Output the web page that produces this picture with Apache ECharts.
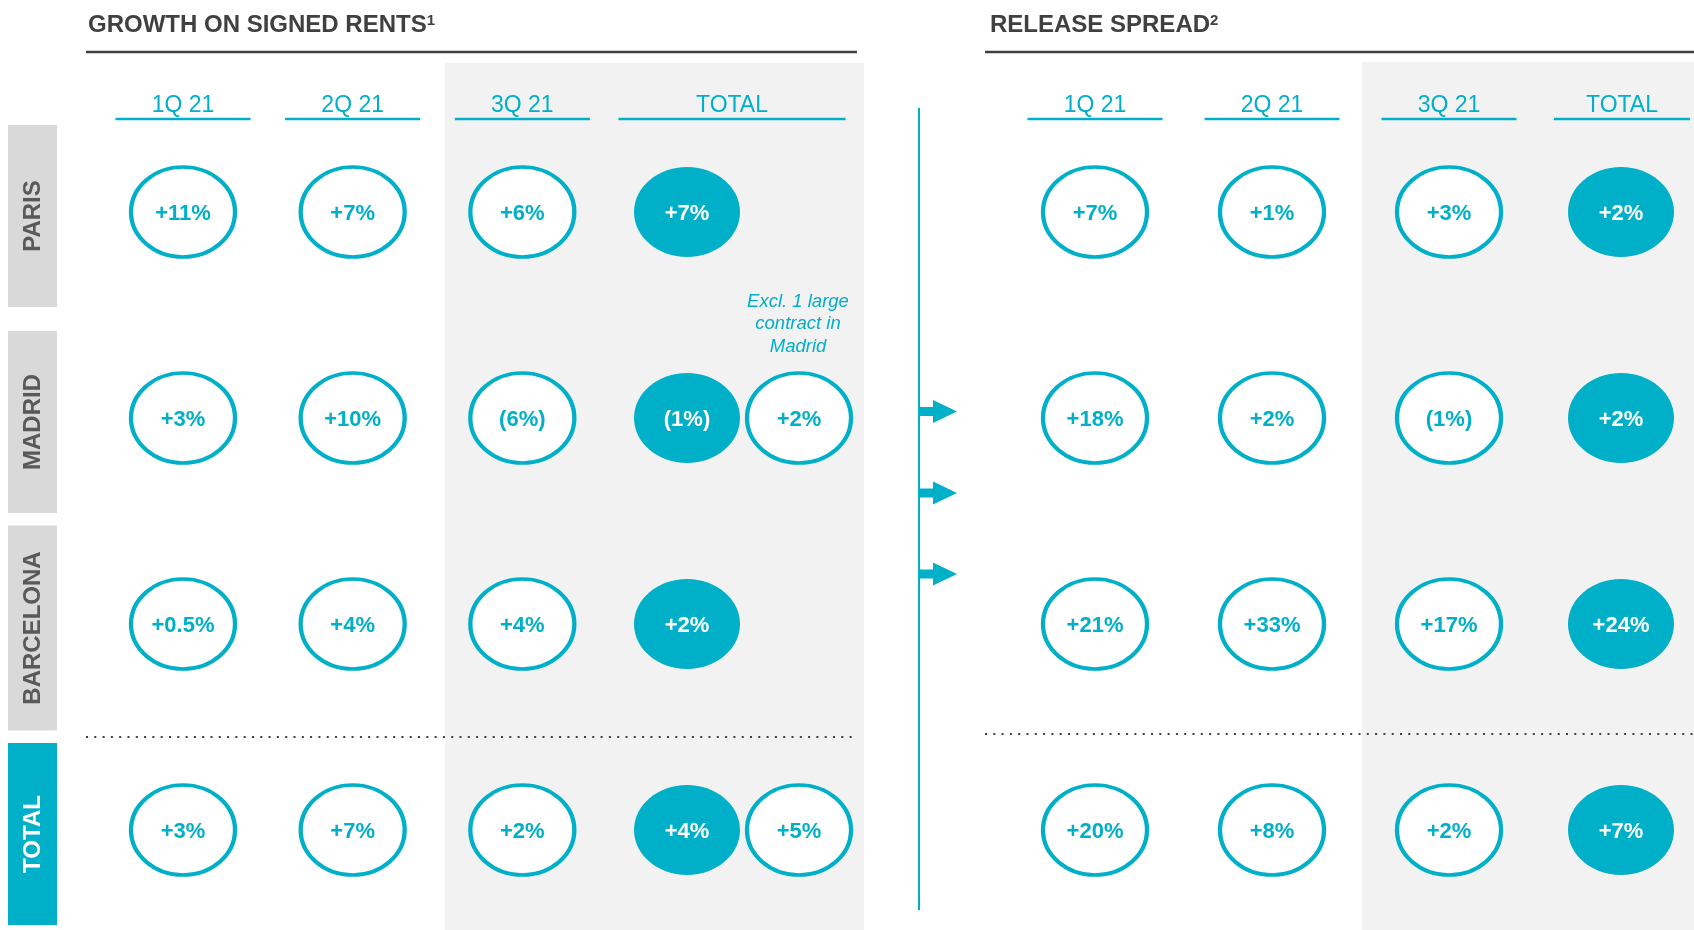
<!DOCTYPE html>
<html>
<head>
<meta charset="utf-8">
<script src="https://cdn.jsdelivr.net/npm/echarts@6/dist/echarts.min.js"></script>
<style>
  html, body { margin: 0; padding: 0; background: #fff; }
  #main { width: 1694px; height: 930px; }
</style>
</head>
<body>
<div id="main"></div>
<script>
// categories
const quarters = ['1Q 21', '2Q 21', '3Q 21', 'TOTAL'];
const cities = ['PARIS', 'MADRID', 'BARCELONA', 'TOTAL'];

// growth on signed rents, rows = cities, cols = quarters (last = total)
const signedRentGrowth = [
  [11, 7, 6, 7],
  [3, 10, -6, -1],
  [0.5, 4, 4, 2],
  [3, 7, 2, 4]
];
// total excluding 1 large contract in Madrid
const signedRentExcl = [null, 2, null, 5];

// release spread
const releaseSpread = [
  [7, 1, 3, 2],
  [18, 2, -1, 2],
  [21, 33, 17, 24],
  [20, 8, 2, 7]
];

const CYAN = '#00AFC8';
const DARK = '#404040';
const FONT = 'Arial, "Liberation Sans", sans-serif';
// ellipse drawn with beziers, stretched to symbolSize
const ELLIPSE = 'path://M50,0 C77.6,0 100,22.4 100,50 C100,77.6 77.6,100 50,100 C22.4,100 0,77.6 0,50 C0,22.4 22.4,0 50,0 Z';

function fmt (v) {
  return v < 0 ? '(' + Math.abs(v) + '%)' : '+' + v + '%'
}

function quarterPoints (table) {
  var out = []
  table.forEach(function (row, r) {
    for (var c = 0; c < 3; c++) out.push([c, r, row[c]])
  })
  return out
}
function totalPoints (table) {
  return table.map(function (row, r) { return [3, r, row[3]] })
}

function circleSeries (gi, data, filled, offset) {
  return {
    type: 'scatter',
    xAxisIndex: gi,
    yAxisIndex: gi,
    data: data,
    symbol: ELLIPSE,
    symbolSize: filled ? [106, 90] : [104, 90],
    symbolOffset: [offset || 0, 0],
    itemStyle: filled
      ? { color: CYAN, opacity: 1 }
      : { color: '#fff', borderColor: CYAN, borderWidth: 4, opacity: 1 },
    label: {
      show: true,
      position: 'inside',
      offset: [0, 2],
      formatter: function (p) { return fmt(p.value[2]) },
      color: filled ? '#fff' : CYAN,
      fontWeight: 'bold',
      fontSize: 22,
      fontFamily: FONT
    },
    emphasis: { disabled: true },
    z: 3
  }
}

function headerSeries (gi, totalShift, totalWidth) {
  return {
    type: 'custom',
    xAxisIndex: gi,
    yAxisIndex: gi,
    clip: false,
    data: quarters.map(function (q, i) { return [i, 0] }),
    renderItem: function (params, api) {
      var i = api.value(0)
      var x = api.coord([i, 0])[0]
      var w = 135
      if (i === 3) { x += totalShift; w = totalWidth }
      return {
        type: 'group',
        children: [
          {
            type: 'text',
            x: x,
            y: 106,
            style: {
              text: quarters[i],
              fill: CYAN,
              fontSize: 23,
              fontFamily: FONT,
              align: 'center',
              verticalAlign: 'middle'
            }
          },
          {
            type: 'line',
            shape: { x1: x - w / 2, y1: 119, x2: x + w / 2, y2: 119 },
            style: { stroke: CYAN, lineWidth: 2.5 }
          }
        ]
      }
    }
  }
}

var rowLabelSeries = {
  type: 'custom',
  xAxisIndex: 0,
  yAxisIndex: 0,
  clip: false,
  data: cities.map(function (c, i) { return [0, i] }),
  renderItem: function (params, api) {
    var r = api.value(1)
    var y = api.coord([0, r])[1] + 4
    var h = r === 2 ? 205 : 182
    var isTotal = r === cities.length - 1
    return {
      type: 'group',
      children: [
        {
          type: 'rect',
          shape: { x: 8, y: y - h / 2, width: 49, height: h },
          style: { fill: isTotal ? CYAN : '#D9D9D9' }
        },
        {
          type: 'text',
          x: 33,
          y: y,
          rotation: Math.PI / 2,
          style: {
            text: cities[r],
            fill: isTotal ? '#fff' : '#595959',
            fontSize: 24,
            fontWeight: 'bold',
            fontFamily: FONT,
            align: 'center',
            verticalAlign: 'middle'
          }
        }
      ]
    }
  }
}

function arrow (c) {
  return {
    type: 'polygon',
    shape: {
      points: [[919, c - 4.5], [933, c - 4.5], [933, c - 11.5], [957, c], [933, c + 11.5], [933, c + 4.5], [919, c + 4.5]]
    },
    style: { fill: CYAN }
  }
}

function title (x, main, sup) {
  return {
    type: 'text',
    x: x,
    y: 25,
    style: {
      text: '{t|' + main + '}{s|' + sup + '}',
      rich: {
        t: { fontSize: 24, fontWeight: 'bold', fill: DARK, fontFamily: FONT },
        s: { fontSize: 15, fontWeight: 'bold', fill: DARK, fontFamily: FONT, verticalAlign: 'top' }
      },
      verticalAlign: 'middle'
    }
  }
}

var chart = echarts.init(document.getElementById('main'), null, { renderer: 'canvas' })

var option = {
  animation: false,
  backgroundColor: '#fff',
  grid: [
    { left: 183, right: 1002, top: 212, bottom: 100 },
    { left: 1095, right: 68, top: 212, bottom: 100 }
  ],
  xAxis: [
    { type: 'category', gridIndex: 0, data: quarters, boundaryGap: false, show: false },
    { type: 'category', gridIndex: 1, data: quarters, boundaryGap: false, show: false }
  ],
  yAxis: [
    { type: 'category', gridIndex: 0, data: cities, boundaryGap: false, inverse: true, show: false },
    { type: 'category', gridIndex: 1, data: cities, boundaryGap: false, inverse: true, show: false }
  ],
  graphic: [
    // shaded 3Q / total panels
    { type: 'rect', z: -10, shape: { x: 445, y: 63, width: 419, height: 867 }, style: { fill: '#F2F2F2' } },
    { type: 'rect', z: -10, shape: { x: 1362, y: 62, width: 332, height: 868 }, style: { fill: '#F2F2F2' } },
    title(88, 'GROWTH ON SIGNED RENTS', '1'),
    title(990, 'RELEASE SPREAD', '2'),
    { type: 'line', shape: { x1: 86, y1: 52, x2: 857, y2: 52 }, style: { stroke: DARK, lineWidth: 2.5 } },
    { type: 'line', shape: { x1: 985, y1: 52, x2: 1694, y2: 52 }, style: { stroke: DARK, lineWidth: 2.5 } },
    { type: 'line', shape: { x1: 86, y1: 737, x2: 856, y2: 737 }, style: { stroke: DARK, lineWidth: 2, lineDash: [2, 6.3] } },
    { type: 'line', shape: { x1: 985, y1: 734, x2: 1694, y2: 734 }, style: { stroke: DARK, lineWidth: 2, lineDash: [2, 6.3] } },
    { type: 'line', shape: { x1: 919, y1: 108, x2: 919, y2: 910 }, style: { stroke: CYAN, lineWidth: 2 } },
    arrow(411.5),
    arrow(493),
    arrow(574),
    {
      type: 'text',
      x: 798,
      y: 324,
      style: {
        text: 'Excl. 1 large\ncontract in\nMadrid',
        fill: CYAN,
        fontSize: 18.5,
        fontStyle: 'italic',
        fontFamily: FONT,
        lineHeight: 22.5,
        align: 'center',
        verticalAlign: 'middle'
      }
    }
  ],
  series: [
    rowLabelSeries,
    headerSeries(0, 40, 227),
    headerSeries(1, -4, 136),
    circleSeries(0, quarterPoints(signedRentGrowth), false),
    circleSeries(0, totalPoints(signedRentGrowth), true, -5),
    circleSeries(0, signedRentExcl.map(function (v, r) { return v === null ? null : [3, r, v] }).filter(Boolean), false, 107),
    circleSeries(1, quarterPoints(releaseSpread), false),
    circleSeries(1, totalPoints(releaseSpread), true, -5)
  ]
}

chart.setOption(option)
</script>
</body>
</html>
